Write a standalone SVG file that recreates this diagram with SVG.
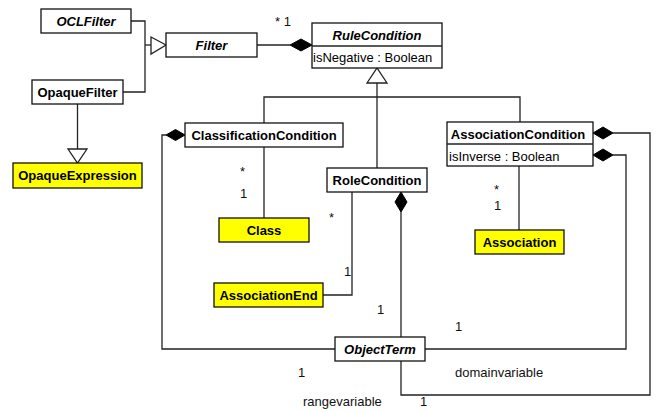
<svg xmlns="http://www.w3.org/2000/svg" width="659" height="412" viewBox="0 0 659 412">
<style>
.box{fill:#fff;stroke:#111;stroke-width:1.3}
.yel{fill:#ffff00;stroke:#111;stroke-width:1.3}
.name{font-family:"Liberation Sans",Arial,sans-serif;font-size:13px;font-weight:bold;text-anchor:middle;fill:#000}
.abs{font-style:italic}
.attr{font-family:"Liberation Sans",Arial,sans-serif;font-size:13px;fill:#000}
.lbl{font-family:"Liberation Sans",Arial,sans-serif;font-size:13px;fill:#111}
.ln{fill:none;stroke:#222;stroke-width:1.3}
.dia{fill:#000;stroke:#000;stroke-width:1}
.tri{fill:#fff;stroke:#222;stroke-width:1.3}
</style>
<rect width="659" height="412" fill="#fff"/>
<g id="connectors">
<polyline class="ln" points="131,21 145,21 145,92 123,92"/>
<line class="ln" x1="145" y1="45" x2="151" y2="45"/>
<polygon class="tri" points="151,37 166,45 151,54"/>
<line class="ln" x1="77.5" y1="104" x2="77.5" y2="149"/>
<polygon class="tri" points="68,149 87,149 77.5,163"/>
<line class="ln" x1="257" y1="45" x2="290" y2="45"/>
<polygon class="dia" points="290,45 301,39 312,45 301,51"/>
<line class="ln" x1="377" y1="83" x2="377" y2="168"/>
<polyline class="ln" points="264,123 264,97 520,97 520,122"/>
<polygon class="tri" points="367,83 387,83 377,68"/>
<polyline class="ln" points="166,135 162,135 162,349 335,349"/>
<polygon class="dia" points="185,135 175.5,129.5 166,135 175.5,140.5"/>
<line class="ln" x1="264" y1="147" x2="264" y2="218"/>
<polyline class="ln" points="352,192 352,295 323,295"/>
<line class="ln" x1="401" y1="212" x2="401" y2="337"/>
<polygon class="dia" points="401,192 407,202 401,212 395,202"/>
<line class="ln" x1="519" y1="166" x2="519" y2="230"/>
<polyline class="ln" points="613,133 650,133 650,395 401,395 401,361"/>
<polygon class="dia" points="593,133 603,127 613,133 603,139"/>
<polyline class="ln" points="613,155 626,155 626,349 425,349"/>
<polygon class="dia" points="593,155 603,149 613,155 603,161"/>
<text class="lbl" x="275" y="26">* 1</text>
<text class="lbl" x="240" y="176">*</text>
<text class="lbl" x="240" y="198">1</text>
<text class="lbl" x="329" y="222">*</text>
<text class="lbl" x="344" y="276">1</text>
<text class="lbl" x="377" y="314">1</text>
<text class="lbl" x="455" y="331">1</text>
<text class="lbl" x="494" y="194">*</text>
<text class="lbl" x="494" y="210">1</text>
<text class="lbl" x="455" y="377">domainvariable</text>
<text class="lbl" x="298" y="377">1</text>
<text class="lbl" x="303" y="406">rangevariable</text>
<text class="lbl" x="420" y="406">1</text>
</g>
<g id="OCLFilter"><rect class="box" x="41" y="9" width="90" height="24"/><text class="name abs" x="86" y="26">OCLFilter</text></g>
<g id="Filter"><rect class="box" x="166" y="33" width="91" height="24"/><text class="name abs" x="211.5" y="50">Filter</text></g>
<g id="OpaqueFilter"><rect class="box" x="32" y="80" width="91" height="24"/><text class="name" x="77.5" y="97">OpaqueFilter</text></g>
<g id="OpaqueExpression"><rect class="yel" x="13" y="163" width="129" height="25"/><text class="name" x="77.5" y="180">OpaqueExpression</text></g>
<g id="RuleCondition"><rect class="box" x="312" y="23" width="130" height="45"/><line class="ln" x1="312" y1="46" x2="442" y2="46"/><text class="name abs" x="377" y="40">RuleCondition</text><text class="attr" x="313" y="62">isNegative : Boolean</text></g>
<g id="ClassificationCondition"><rect class="box" x="185" y="123" width="158" height="24"/><text class="name" x="264" y="140">ClassificationCondition</text></g>
<g id="AssociationCondition"><rect class="box" x="447" y="122" width="146" height="44"/><line class="ln" x1="447" y1="144" x2="593" y2="144"/><text class="name" x="518" y="139">AssociationCondition</text><text class="attr" x="449" y="161">isInverse : Boolean</text></g>
<g id="RoleCondition"><rect class="box" x="327" y="168" width="100" height="24"/><text class="name" x="377" y="185">RoleCondition</text></g>
<g id="Class"><rect class="yel" x="219" y="218" width="90" height="24"/><text class="name" x="264" y="235">Class</text></g>
<g id="AssociationEnd"><rect class="yel" x="214" y="283" width="109" height="24"/><text class="name" x="268.5" y="300">AssociationEnd</text></g>
<g id="Association"><rect class="yel" x="475" y="230" width="89" height="24"/><text class="name" x="519.5" y="247">Association</text></g>
<g id="ObjectTerm"><rect class="box" x="335" y="337" width="90" height="24"/><text class="name abs" x="380" y="354">ObjectTerm</text></g>
</svg>
